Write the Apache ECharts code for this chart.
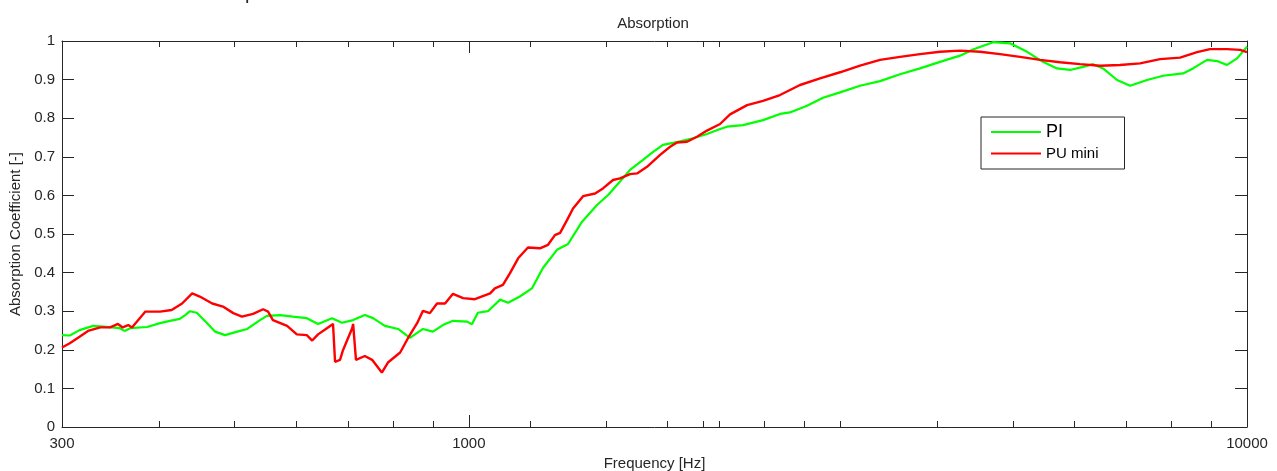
<!DOCTYPE html>
<html>
<head>
<meta charset="utf-8">
<script src="https://cdn.jsdelivr.net/npm/echarts@6/dist/echarts.min.js"></script>
<style>
html,body{margin:0;padding:0;background:#fff;}
#chart{width:1277px;height:471px;}
</style>
</head>
<body>
<div id="chart"></div>
<script>
// ---- data ----
const seriesNames = ['PI', 'PU mini'];

const freqPI = [300,307,316,329,339,356,361,367,386,401,413,425,432,438,447,461,472,486,504,519,539,550,572,594,619,640,667,687,710,735,753,780,811,840,873,899,926,954,995,1009,1027,1058,1097,1123,1163,1205,1245,1298,1341,1398,1461,1510,1564,1611,1674,1725,1776,1851,1941,2023,2103,2147,2251,2388,2511,2586,2720,2852,2999,3182,3376,3582,3800,4032,4278,4445,4716,4960,5216,5468,5700,5924,6156,6341,6531,6808,7075,7440,7800,8276,8524,8885,9152,9427,9710,10000];
const valPI = [0.238,0.237,0.251,0.262,0.260,0.256,0.249,0.256,0.259,0.269,0.275,0.280,0.290,0.300,0.296,0.269,0.247,0.238,0.247,0.254,0.277,0.288,0.290,0.286,0.282,0.267,0.282,0.270,0.277,0.290,0.282,0.262,0.254,0.231,0.254,0.247,0.264,0.275,0.273,0.266,0.296,0.300,0.330,0.322,0.338,0.359,0.412,0.459,0.474,0.532,0.575,0.601,0.636,0.666,0.692,0.713,0.731,0.738,0.748,0.759,0.772,0.778,0.782,0.795,0.811,0.815,0.832,0.853,0.867,0.884,0.896,0.914,0.929,0.946,0.962,0.978,0.997,0.994,0.972,0.946,0.929,0.925,0.933,0.940,0.929,0.899,0.884,0.899,0.910,0.916,0.929,0.951,0.948,0.938,0.955,0.985];

const freqPU = [300,307,316,324,336,346,354,359,365,369,384,401,415,428,441,451,468,483,498,511,528,544,552,560,584,601,619,629,640,657,669,673,683,689,708,710,716,735,751,773,787,816,835,858,873,891,910,932,954,983,1018,1065,1080,1106,1129,1157,1191,1234,1264,1290,1310,1337,1361,1402,1453,1487,1532,1564,1611,1645,1694,1761,1814,1851,1907,1964,2023,2103,2166,2278,2388,2511,2664,2827,2999,3182,3376,3582,3800,4032,4278,4538,4815,5109,5420,5751,6101,6474,6868,7287,7731,8203,8626,8964,9427,9797,10000];
const valPU = [0.206,0.217,0.234,0.249,0.258,0.258,0.267,0.258,0.264,0.258,0.299,0.299,0.303,0.320,0.346,0.338,0.320,0.312,0.295,0.286,0.293,0.305,0.299,0.277,0.262,0.240,0.238,0.224,0.240,0.256,0.267,0.169,0.174,0.199,0.256,0.267,0.174,0.184,0.174,0.141,0.167,0.193,0.230,0.269,0.301,0.295,0.320,0.320,0.345,0.334,0.331,0.346,0.359,0.368,0.398,0.437,0.465,0.463,0.472,0.497,0.503,0.536,0.566,0.598,0.605,0.618,0.640,0.644,0.655,0.657,0.674,0.705,0.726,0.737,0.739,0.752,0.768,0.785,0.810,0.834,0.845,0.860,0.886,0.903,0.919,0.936,0.951,0.959,0.966,0.972,0.975,0.972,0.966,0.959,0.951,0.945,0.940,0.936,0.938,0.942,0.953,0.957,0.971,0.979,0.979,0.977,0.971];

const xTickLabels = [300, 1000, 10000];
const xMajorTicks = [1000];
const xMinorTicks = [400,500,600,700,800,900,1200,1500,1800,2000,2100,2400,2700,3000,4000,5000,6000,7000,8000,9000];
const yTickLabels = [0,0.1,0.2,0.3,0.4,0.5,0.6,0.7,0.8,0.9,1];

// ---- chart ----
const FONT = "'Liberation Sans', Arial, sans-serif";
const AX = '#262626';
const pairs = (xs, ys) => xs.map((x, i) => [x, ys[i]]);

function xAxisCfg(pos, ticks, len, withLabels, withLine) {
  return {
    type: 'log', logBase: 10, min: 300, max: 10000, position: pos,
    axisLine: { show: withLine, onZero: false, lineStyle: { color: AX, width: 1 } },
    axisTick: { show: true, inside: true, length: len, customValues: ticks, lineStyle: { color: AX, width: 1 } },
    axisLabel: withLabels ? {
      show: true, customValues: xTickLabels, margin: 9, color: AX, fontFamily: FONT, fontSize: 15,
      formatter: v => String(Math.round(v))
    } : { show: false },
    splitLine: { show: false },
    minorTick: { show: false }
  };
}

const chart = echarts.init(document.getElementById('chart'), null, { renderer: 'canvas' });
const x0 = xAxisCfg('bottom', xMajorTicks, 12, true, true);
x0.name = 'Frequency [Hz]';
x0.nameLocation = 'middle';
x0.nameGap = 28;
x0.nameTextStyle = { color: AX, fontFamily: FONT, fontSize: 15 };

chart.setOption({
  animation: false,
  backgroundColor: '#fff',
  textStyle: { fontFamily: FONT },
  title: {
    text: 'Absorption', left: 653, top: 16, textAlign: 'center', padding: 0,
    textStyle: { color: AX, fontFamily: FONT, fontSize: 15, fontWeight: 'normal' }
  },
  graphic: [
    { type: 'text', left: 245, top: -17, silent: true,
      style: { text: 'p', fontFamily: FONT, fontSize: 20, fill: AX } }
  ],
  grid: { left: 62, right: 30, top: 41, bottom: 44, containLabel: false, outerBoundsMode: 'none' },
  legend: {
    orient: 'vertical', left: 981, top: 117,
    borderColor: AX, borderWidth: 1, backgroundColor: '#fff',
    padding: [6, 26, 8, 9], itemWidth: 50, itemHeight: 14, itemGap: 5,
    itemStyle: { opacity: 0 },
    textStyle: { color: '#000', fontFamily: FONT, fontSize: 15 },
    data: [
      { name: seriesNames[0], textStyle: { fontSize: 18 } },
      { name: seriesNames[1], textStyle: { fontSize: 15 } }
    ]
  },
  xAxis: [
    x0,
    xAxisCfg('bottom', xMinorTicks, 6, false, false),
    xAxisCfg('top', xMajorTicks, 12, false, true),
    xAxisCfg('top', xMinorTicks, 6, false, false)
  ],
  yAxis: [
    {
      type: 'value', min: 0, max: 1, interval: 0.1, position: 'left',
      name: 'Absorption Coefficient [-]', nameLocation: 'middle', nameGap: 37, nameRotate: 90,
      nameTextStyle: { color: AX, fontFamily: FONT, fontSize: 15 },
      axisLine: { show: true, lineStyle: { color: AX, width: 1 } },
      axisTick: { show: true, inside: true, length: 12, lineStyle: { color: AX } },
      axisLabel: { color: AX, fontFamily: FONT, fontSize: 15, margin: 7, customValues: yTickLabels },
      splitLine: { show: false }
    },
    {
      type: 'value', min: 0, max: 1, interval: 0.1, position: 'right',
      axisLine: { show: true, lineStyle: { color: AX, width: 1 } },
      axisTick: { show: true, inside: true, length: 12, lineStyle: { color: AX } },
      axisLabel: { show: false },
      splitLine: { show: false }
    }
  ],
  series: [
    {
      name: seriesNames[0], type: 'line', xAxisIndex: 0, yAxisIndex: 0,
      data: pairs(freqPI, valPI), symbol: 'none', showSymbol: false,
      lineStyle: { color: '#00ff00', width: 2.2 }, itemStyle: { color: '#00ff00' }, z: 2
    },
    {
      name: seriesNames[1], type: 'line', xAxisIndex: 0, yAxisIndex: 0,
      data: pairs(freqPU, valPU), symbol: 'none', showSymbol: false,
      lineStyle: { color: '#ff0000', width: 2.4 }, itemStyle: { color: '#ff0000' }, z: 3
    }
  ]
});
</script>
</body>
</html>
